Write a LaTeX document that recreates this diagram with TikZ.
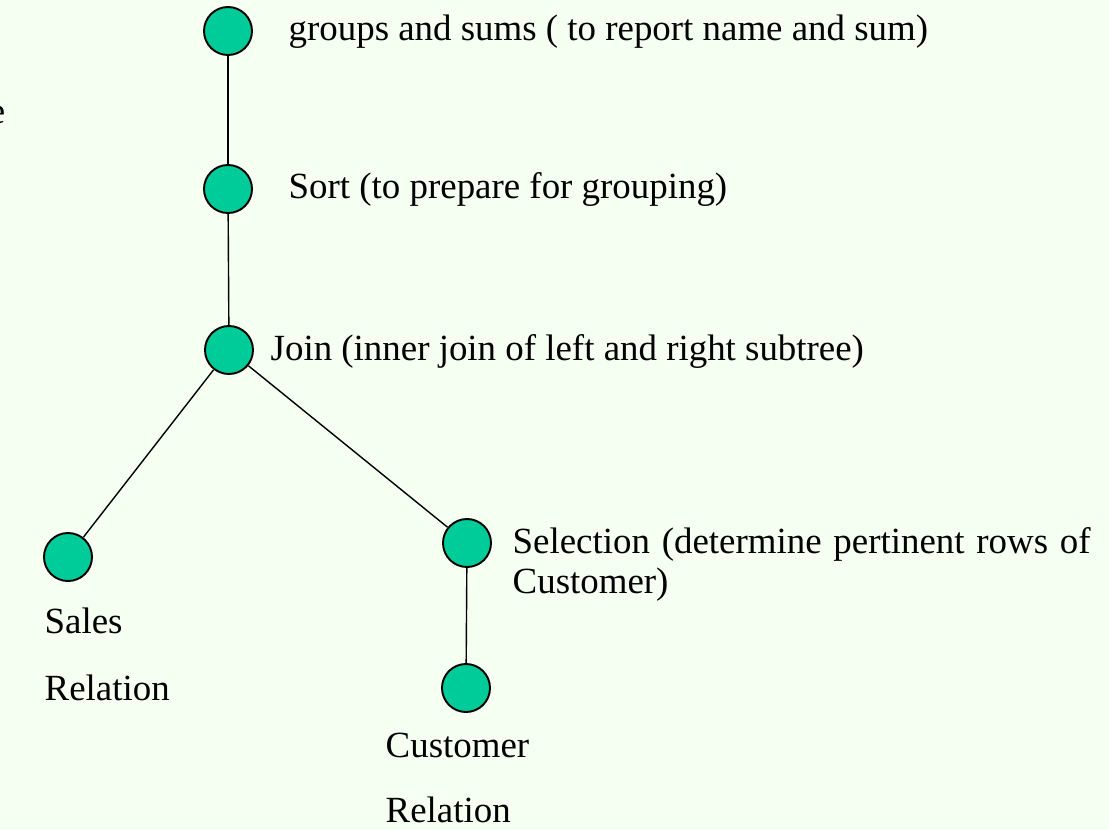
\documentclass[tikz,border=0pt]{standalone}
\usepackage{fontspec}
\setmainfont{Liberation Serif}
\usetikzlibrary{positioning}
\definecolor{opgreen}{RGB}{0,204,153}
\definecolor{paper}{RGB}{245,255,242}

\begin{document}
\begin{tikzpicture}[x=0.02cm,y=-0.02cm,line width=0.8pt,
    main node/.style={circle,draw,fill=opgreen,line width=1.1pt,minimum size=0.96cm,inner sep=0pt},
    text node/.style={anchor=base west,inner sep=0pt,font=\fontsize{21}{25}\selectfont}]
    \fill[paper] (0,0) rectangle (1109,829);
    \useasboundingbox (0,0) rectangle (1109,829);

    \node[main node] (1) at (228,31) {};
    \node[main node] (2) at (228,189) {};
    \node[main node] (3) at (229,350) {};
    \node[main node] (4) at (68,557) {};
    \node[main node] (5) at (467,543) {};
    \node[main node] (6) at (466,688) {};

    \node[text node] (t1) at (288,40) {groups and sums ( to report name and sum)};
    \node[text node] (t2) at (288,198) {Sort (to prepare for grouping)};
    \node[text node] (t3) at (270,360) {Join (inner join of left and right subtree)};
    \node[text node] (t5a) at (512,553) {\makebox[11.56cm][s]{Selection (determine pertinent rows of}};
    \node[text node] (t5b) at (512,593) {Customer)};
    \node[text node] (t4a) at (44,633) {Sales};
    \node[text node] (t4b) at (44,700) {Relation};
    \node[text node] (t6a) at (385,757) {Customer};
    \node[text node] (t6b) at (385,822) {Relation};
    \node[text node,anchor=base east] (t0) at (6,123) {e};

    \path
        (1) edge (2)
        (2) edge (3)
        (3) edge (4)
        (3) edge (5)
        (5) edge (6)
        ;
\end{tikzpicture}
\end{document}
